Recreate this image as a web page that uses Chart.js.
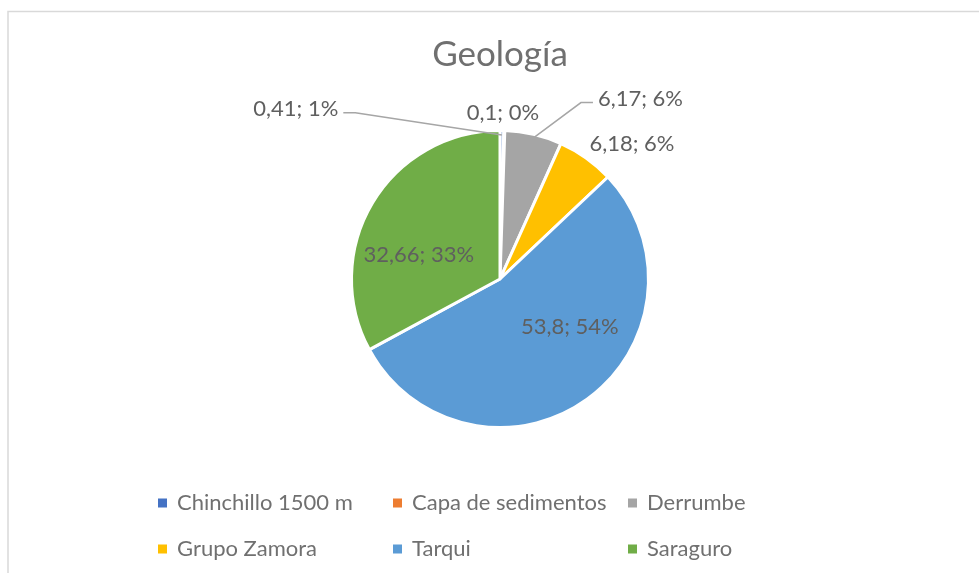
<!DOCTYPE html>
<html>
<head>
<meta charset="utf-8">
<script src="https://cdn.jsdelivr.net/npm/chart.js@4.4.0/dist/chart.umd.min.js"></script>
<style>
  html, body { margin: 0; padding: 0; background: #fff; }
  #wrap { position: relative; width: 979px; height: 573px; }
</style>
</head>
<body>
<div id="wrap"><canvas id="chart" width="979" height="573"></canvas></div>
<script>
const chartTitle = 'Geología'
const categories = ['Chinchillo 1500 m', 'Capa de sedimentos', 'Derrumbe', 'Grupo Zamora', 'Tarqui', 'Saraguro']
const values = [0.41, 0.1, 6.17, 6.18, 53.8, 32.66]
const percentLabels = ['1%', '0%', '6%', '6%', '54%', '33%']
const colors = ['#4472C4', '#ED7D31', '#A5A5A5', '#FFC000', '#5B9BD5', '#70AD47']

const FONT = 'Lato, "Open Sans", sans-serif'
const TEXT = '#5f5f5f'
const SOFT_TEXT = '#707070'

// where each data label sits: angle from 12 o'clock (deg), distance in radii
const labelPlacement = [
  { angle: 309.8, dist: 1.79, leader: true },
  { angle: 1.0, dist: 1.12 },
  { angle: 37.9, dist: 1.54, leader: true },
  { angle: 44.4, dist: 1.27 },
  { angle: 124.4, dist: 0.57 },
  { angle: 286.5, dist: 0.57 },
]

const fmt = v => String(v).replace('.', ',')

const framePlugin = {
  id: 'frame',
  beforeDraw(chart) {
    const ctx = chart.ctx
    ctx.save()
    ctx.strokeStyle = '#d9d9d9'
    ctx.lineWidth = 1.5
    ctx.beginPath()
    ctx.moveTo(8, chart.height)
    ctx.lineTo(8, 11.5)
    ctx.lineTo(chart.width, 11.5)
    ctx.stroke()

    ctx.fillStyle = SOFT_TEXT
    ctx.font = `35px ${FONT}`
    ctx.textAlign = 'center'
    ctx.textBaseline = 'middle'
    ctx.fillText(chartTitle, 500, 55)
    ctx.restore()
  }
}

const labelPlugin = {
  id: 'sliceLabels',
  afterDatasetsDraw(chart) {
    const ctx = chart.ctx
    const arcs = chart.getDatasetMeta(0).data
    ctx.save()
    ctx.font = `22px ${FONT}`
    ctx.textBaseline = 'middle'
    ctx.textAlign = 'center'
    arcs.forEach((arc, i) => {
      const { x, y, outerRadius, startAngle, endAngle } = arc.getProps(['x', 'y', 'outerRadius', 'startAngle', 'endAngle'], true)
      const p = labelPlacement[i]
      const a = (p.angle - 90) * Math.PI / 180
      const lx = x + Math.cos(a) * outerRadius * p.dist
      const ly = y + Math.sin(a) * outerRadius * p.dist
      const text = `${fmt(values[i])}; ${percentLabels[i]}`

      if (p.leader) {
        const w = ctx.measureText(text).width
        const mid = (startAngle + endAngle) / 2
        const ex = x + Math.cos(mid) * outerRadius * 0.97
        const ey = y + Math.sin(mid) * outerRadius * 0.97
        const side = lx < x ? 1 : -1
        const sx = lx + side * (w / 2 + 5)
        ctx.strokeStyle = '#a6a6a6'
        ctx.lineWidth = 1.5
        ctx.beginPath()
        ctx.moveTo(sx, ly + 4)
        ctx.lineTo(sx + side * 12, ly + 4)
        ctx.lineTo(ex, ey)
        ctx.stroke()
      }

      ctx.fillStyle = TEXT
      ctx.fillText(text, lx, ly)
    })
    ctx.restore()
  }
}

const legendPlugin = {
  id: 'gridLegend',
  afterDraw(chart) {
    const ctx = chart.ctx
    const colX = [158, 393, 628]
    const rowY = [503, 549]
    ctx.save()
    ctx.font = `22px ${FONT}`
    ctx.textBaseline = 'middle'
    ctx.textAlign = 'left'
    categories.forEach((name, i) => {
      const cx = colX[i % 3]
      const cy = rowY[Math.floor(i / 3)]
      ctx.fillStyle = colors[i]
      ctx.fillRect(cx, cy - 4.5, 9, 9)
      ctx.fillStyle = SOFT_TEXT
      ctx.fillText(name, cx + 19, cy)
    })
    ctx.restore()
  }
}

const canvas = document.getElementById('chart')
const myChart = new Chart(canvas, {
  type: 'pie',
  data: {
    labels: categories,
    datasets: [{
      data: values,
      backgroundColor: colors,
      borderColor: '#ffffff',
      borderWidth: 3,
    }]
  },
  options: {
    responsive: false,
    animation: false,
    layout: { padding: { top: 129, bottom: 144, left: 21, right: 0 } },
    plugins: {
      legend: { display: false },
      title: { display: false },
      tooltip: { enabled: false },
    }
  },
  plugins: [framePlugin, labelPlugin, legendPlugin]
})
</script>
</body>
</html>
